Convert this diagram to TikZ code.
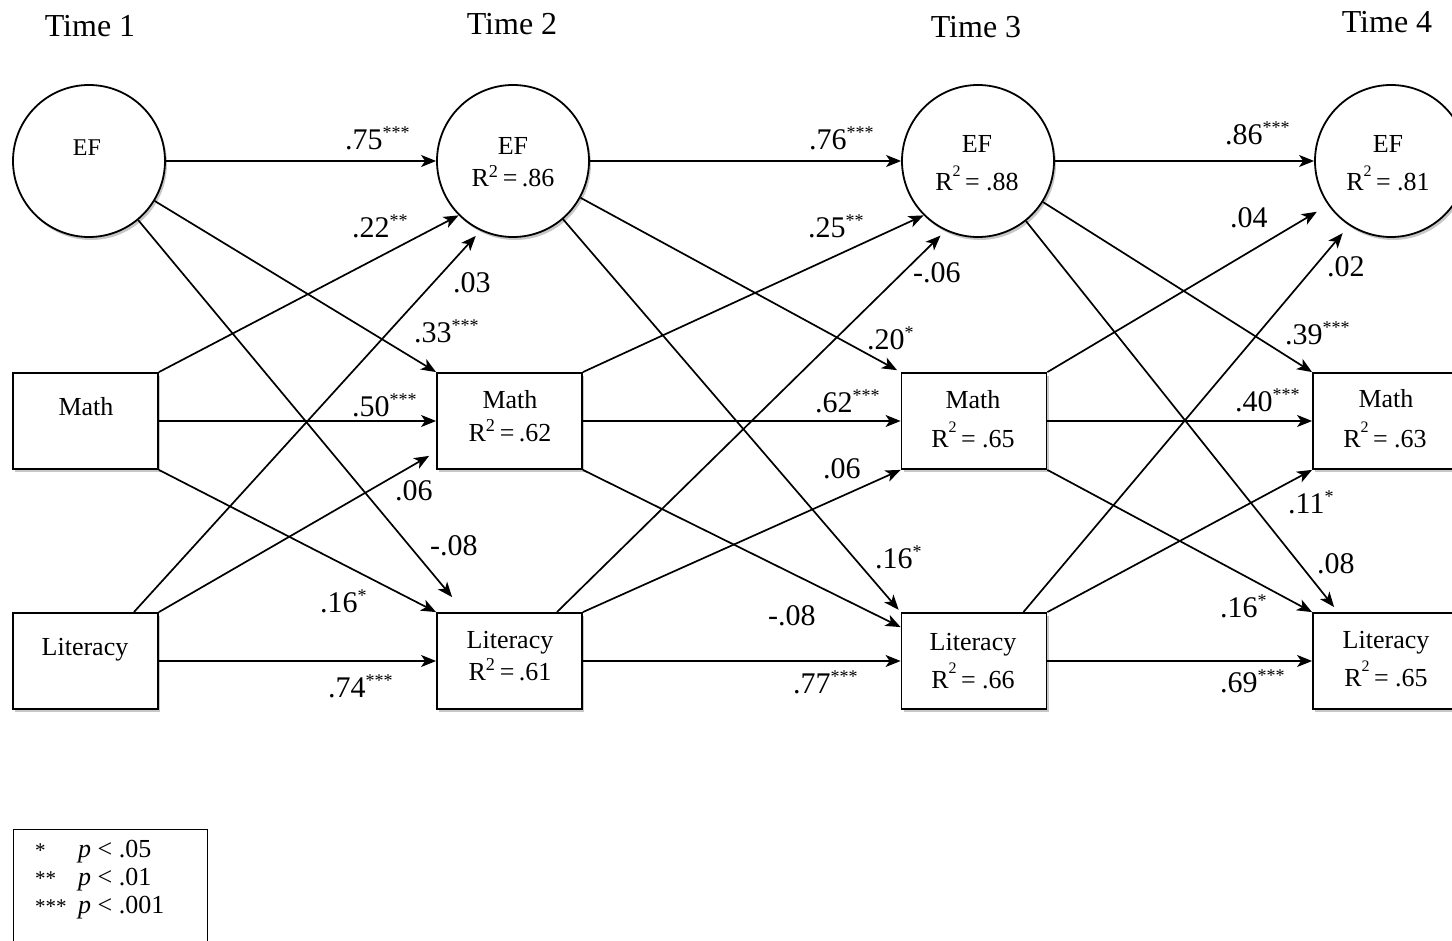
\documentclass[tikz,border=0pt]{standalone}
\usepackage{fontspec}
\setmainfont{Liberation Serif}
\usetikzlibrary{arrows.meta,calc,shadows}
\newcommand\nodefont{\fontsize{26}{30}\selectfont}
\newcommand\labfont{\fontsize{30}{34}\selectfont}
\newcommand\stars[1]{\raisebox{11pt}{\fontsize{18}{18}\selectfont #1}}
\newcommand\hisup{\raisebox{0.55em}{\fontsize{16}{16}\selectfont 2}}
\newcommand\losup{\textsuperscript{2}}
\begin{document}
\begin{tikzpicture}[x=1pt,y=-1pt,
  shad/.style={drop shadow={shadow xshift=2pt,shadow yshift=-3pt,opacity=.22,fill=black}},
  latent/.style={circle,draw,line width=1.8pt,fill=white,minimum size=152pt,inner sep=0pt,shad},
  observed/.style={rectangle,draw,line width=1.8pt,fill=white,minimum width=145pt,minimum height=96pt,inner sep=0pt,shad},
  txt/.style={font=\nodefont,inner sep=0pt,anchor=base},
  lab/.style={font=\labfont,inner sep=0pt,anchor=base west},
  timef/.style={font=\fontsize{32}{36}\selectfont,inner sep=0pt,anchor=base},
  legf/.style={font=\fontsize{26}{30}\selectfont,inner sep=0pt,anchor=base west},
  legs/.style={font=\fontsize{21}{24}\selectfont,inner sep=0pt,anchor=base west},
  arr/.style={line width=1.7pt,-{Stealth[length=15pt,width=12pt,inset=4pt]}},
]
\useasboundingbox (0,0) rectangle (1452,941);

% time headers
\node[timef] (time1) at (90,37) {Time 1};
\node[timef] (time2) at (512,35) {Time 2};
\node[timef] (time3) at (976,38) {Time 3};
\node[timef] (time4) at (1387,33) {Time 4};

% nodes
\node[latent] (EF1) at (89,161) {};
\node[latent] (EF2) at (513,161) {};
\node[latent] (EF3) at (978,161) {};
\node[latent] (EF4) at (1391,161) {};
\node[observed] (M1) at (85.5,421) {};
\node[observed] (L1) at (85.5,661) {};
\node[observed] (M2) at (509.5,421) {};
\node[observed] (L2) at (509.5,661) {};
\node[observed] (M3) at (974,421) {};
\node[observed] (L3) at (974,661) {};
\node[observed] (M4) at (1385.5,421) {};
\node[observed] (L4) at (1385.5,661) {};

% node texts
\node[txt,font=\fontsize{24}{27}\selectfont] (tEF1) at (87,156) {EF};
\node[txt] (tEF2a) at (513,155) {EF};
\node[txt] (tEF2b) at (513,187) {R\losup\,=\,.86};
\node[txt] (tEF3a) at (977,153) {EF};
\node[txt] (tEF3b) at (977,191) {R\hisup\,= .88};
\node[txt] (tEF4a) at (1388,153) {EF};
\node[txt] (tEF4b) at (1388,191) {R\hisup\,= .81};
\node[txt] (tM1) at (86,416) {Math};
\node[txt] (tL1) at (85,655) {Literacy};
\node[txt] (tM2a) at (510,409) {Math};
\node[txt] (tM2b) at (510,441) {R\losup\,=\,.62};
\node[txt] (tL2a) at (510,648) {Literacy};
\node[txt] (tL2b) at (510,680) {R\losup\,=\,.61};
\node[txt] (tM3a) at (973,409) {Math};
\node[txt] (tM3b) at (973,447) {R\hisup\,= .65};
\node[txt] (tL3a) at (973,650) {Literacy};
\node[txt] (tL3b) at (973,688) {R\hisup\,= .66};
\node[txt] (tM4a) at (1386,408) {Math};
\node[txt] (tM4b) at (1385,447) {R\hisup\,= .63};
\node[txt] (tL4a) at (1386,648) {Literacy};
\node[txt] (tL4b) at (1386,686) {R\hisup\,= .65};

% period 1 -> 2
\draw[arr] (EF1) -- (EF2);
\draw[arr] (M1.north east) -- (EF2.225);
\draw[arr,shorten >=7pt] ($(L1.north east)+(-25,0)$) -- (EF2.245);
\draw[arr] (EF1) -- (M2.north west);
\draw[arr] (M1) -- (M2);
\draw[arr] (L1.north east) -- ($(M2.south west)+(-7,-14)$);
\draw[arr] (EF1) -- ($(L2.north west)+(16,-15)$);
\draw[arr] (M1.south east) -- (L2.north west);
\draw[arr] (L1) -- (L2);

% period 2 -> 3
\draw[arr] (EF2) -- (EF3);
\draw[arr] (M2.north east) -- (EF3.225);
\draw[arr,shorten >=7pt] ($(L2.north east)+(-26,0)$) -- (EF3.245);
\draw[arr,shorten >=4pt] (EF2) -- (M3.north west);
\draw[arr] (M2) -- (M3);
\draw[arr] (L2.north east) -- (M3.south west);
\draw[arr,shorten >=3pt] (EF2) -- (L3.north west);
\draw[arr] (M2.south east) -- ($(L3.north west)+(0,15)$);
\draw[arr] (L2) -- (L3);

% period 3 -> 4
\draw[arr] (EF3) -- (EF4);
\draw[arr,shorten >=13pt] (M3.north east) -- (EF4.215);
\draw[arr,shorten >=10pt] ($(L3.north east)+(-24,0)$) -- (EF4.237);
\draw[arr] (EF3) -- (M4.north west);
\draw[arr] (M3) -- (M4);
\draw[arr] (L3.north east) -- (M4.south west);
\draw[arr] (EF3) -- ($(L4.north west)+(22,-5)$);
\draw[arr] (M3.south east) -- (L4.north west);
\draw[arr] (L3) -- (L4);

% coefficient labels, period 1 -> 2
\node[lab] (c1) at (345,150) {.75\stars{***}};
\node[lab] (c2) at (352,238) {.22\stars{**}};
\node[lab] (c3) at (453,293) {.03};
\node[lab] (c4) at (414,343) {.33\stars{***}};
\node[lab] (c5) at (352,417) {.50\stars{***}};
\node[lab] (c6) at (395,500) {.06};
\node[lab] (c7) at (430,555) {-.08};
\node[lab] (c8) at (320,612) {.16\stars{*}};
\node[lab] (c9) at (328,697) {.74\stars{***}};

% period 2 -> 3
\node[lab] (d1) at (809,150) {.76\stars{***}};
\node[lab] (d2) at (808,238) {.25\stars{**}};
\node[lab] (d3) at (913,283) {-.06};
\node[lab] (d4) at (867,350) {.20\stars{*}};
\node[lab] (d5) at (815,413) {.62\stars{***}};
\node[lab] (d6) at (823,478) {.06};
\node[lab] (d7) at (875,568) {.16\stars{*}};
\node[lab] (d8) at (768,625) {-.08};
\node[lab] (d9) at (793,693) {.77\stars{***}};

% period 3 -> 4
\node[lab] (e1) at (1225,145) {.86\stars{***}};
\node[lab] (e2) at (1230,228) {.04};
\node[lab] (e3) at (1327,277) {.02};
\node[lab] (e4) at (1285,345) {.39\stars{***}};
\node[lab] (e5) at (1235,412) {.40\stars{***}};
\node[lab] (e6) at (1288,513) {.11\stars{*}};
\node[lab] (e7) at (1317,573) {.08};
\node[lab] (e8) at (1220,617) {.16\stars{*}};
\node[lab] (e9) at (1220,692) {.69\stars{***}};

% legend
\node[draw,line width=1.2pt,minimum width=194pt,minimum height=140pt,anchor=north west,inner sep=0pt] (legend) at (13,829) {};
\node[legs] (ls1) at (35,857) {*};
\node[legs] (ls2) at (35,885) {**};
\node[legs] (ls3) at (35,913) {***};
\node[legf] (lp1) at (78,857) {\textit{p} < .05};
\node[legf] (lp2) at (78,885) {\textit{p} < .01};
\node[legf] (lp3) at (78,913) {\textit{p} < .001};
\end{tikzpicture}
\end{document}
